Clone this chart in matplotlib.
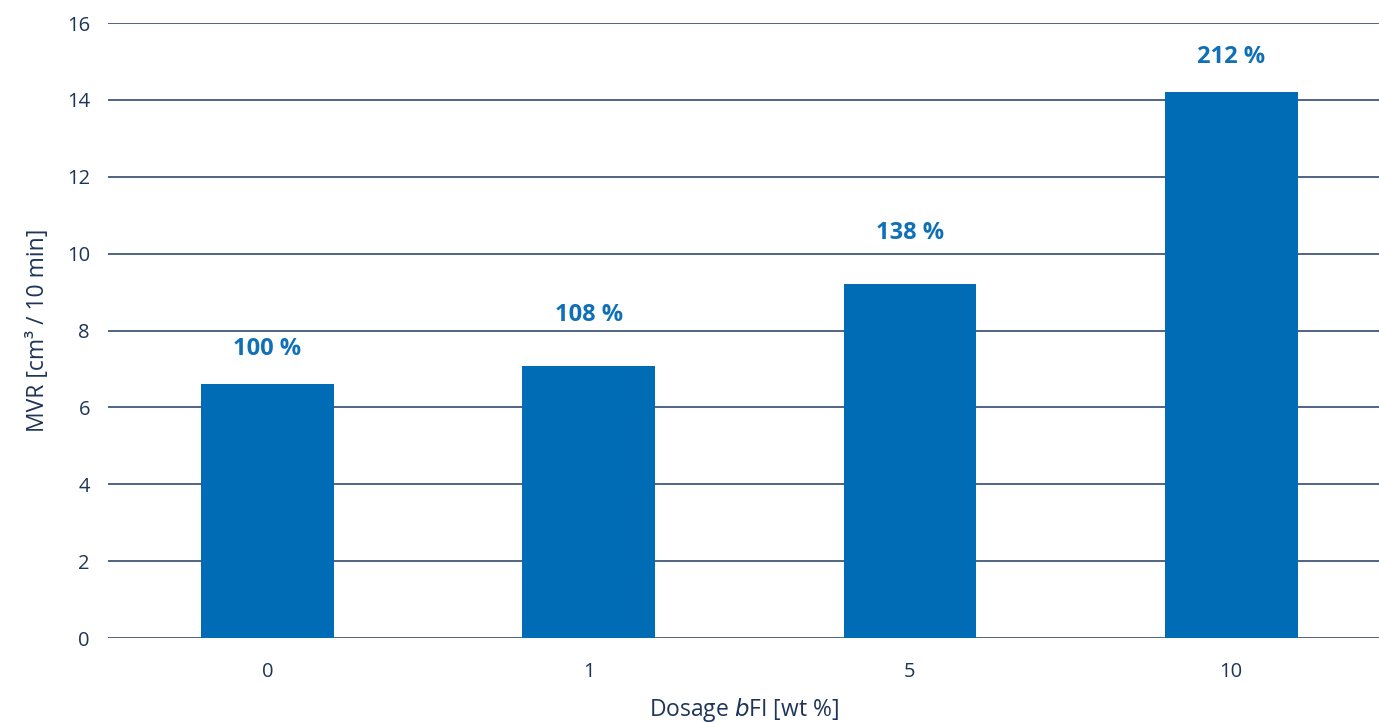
import numpy as np
import matplotlib.pyplot as plt

# Data
dosage = ["0", "1", "5", "10"]
mvr = [6.61, 7.08, 9.21, 14.2]
rel_labels = ["100 %", "108 %", "138 %", "212 %"]

# label offset above each bar (points) - the reference is not uniform
label_offsets = [25.5, 37, 37, 25.5]

BAR_COLOR = "#006cb5"
LABEL_COLOR = "#1070b5"
GRID_COLOR = "#1e3a62"
TEXT_COLOR = "#1e3558"

plt.rcParams['font.family'] = ['Open Sans', 'DejaVu Sans']

fig = plt.figure(figsize=(13.79, 7.22), dpi=100)
ax = fig.add_axes([0.0783, 0.1163, 0.9217, 0.8517])

x = np.arange(len(dosage))
ax.bar(x, mvr, width=0.413, color=BAR_COLOR, zorder=3)

# percentage labels above the bars
for xi, v, lab, off in zip(x, mvr, rel_labels, label_offsets):
    ax.annotate(lab, (xi, v), xytext=(0, off), textcoords="offset points",
                ha="center", va="center", fontsize=17, fontweight="bold",
                color=LABEL_COLOR)

ax.set_xlim(-0.496, 3.46)
ax.set_ylim(0, 16)
ax.set_yticks(range(0, 17, 2))
ax.set_xticks(x)
ax.set_xticklabels(dosage)

ax.grid(axis="y", color=GRID_COLOR, linewidth=1.1, zorder=0)
ax.set_axisbelow(True)
for s in ax.spines.values():
    s.set_visible(False)

ax.tick_params(axis="both", length=0, labelsize=14.5, colors=TEXT_COLOR)
ax.tick_params(axis="y", pad=13)
ax.tick_params(axis="x", pad=17)

ax.set_ylabel("MVR [cm³ / 10 min]", fontsize=16.5, color=TEXT_COLOR, labelpad=12)
ax.set_xlabel("Dosage $\\it{b}$FI [wt %]", fontsize=16.5, color=TEXT_COLOR, labelpad=10)

fig.savefig("out.png", dpi=100)
